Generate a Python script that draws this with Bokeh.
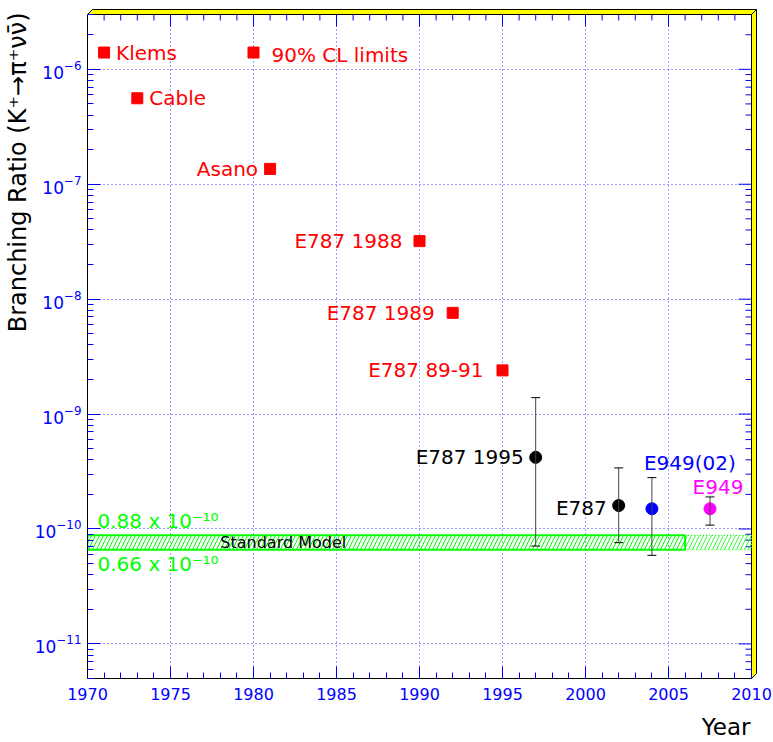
import math
import numpy as np
from bokeh.plotting import figure
from bokeh.models import (ColumnDataSource, Whisker, TeeHead, FixedTicker, Range1d, Title)
from bokeh.core.properties import value
from bokeh.embed import file_html
from bokeh.resources import INLINE

# ---------------- data ----------------
limit_names = ["Klems", "Cable", "Asano", "E787 1988", "E787 1989", "E787 89-91"]
limit_years = [1971, 1973, 1981, 1990, 1992, 1995]
limit_values = [1.4e-6, 5.6e-7, 1.36e-7, 3.2e-8, 7.6e-9, 2.4e-9]

legend_text = ["90% CL limits"]
legend_year = [1980]
legend_value = [1.4e-6]

meas_names = ["E787 1995", "E787", "E949(02)", "E949"]
meas_years = [1997, 2002, 2004, 2007.5]
meas_values = [4.2e-10, 1.6e-10, 1.5e-10, 1.5e-10]
meas_upper = [1.39e-9, 3.4e-10, 2.8e-10, 1.9e-10]
meas_lower = [7.1e-11, 7.6e-11, 5.9e-11, 1.08e-10]

sm_low = 0.66e-10
sm_high = 0.88e-10
sm_start, sm_end, sm_ext_end = 1970, 2006, 2010
sm_high_text = "0.88 x 10\u207b\u00b9\u2070"
sm_low_text = "0.66 x 10\u207b\u00b9\u2070"
sm_name = "Standard Model"
sm_name_year = 1978

x_major = [1970, 1975, 1980, 1985, 1990, 1995, 2000, 2005, 2010]
x_minor = list(range(1970, 2011))
y_major = [1e-11, 1e-10, 1e-9, 1e-8, 1e-7, 1e-6]
y_minor = [m * 10.0 ** e for e in range(-12, -5) for m in range(1, 10)]

x_label = "Year"
y_label = "Branching Ratio (K\u207a\u2192\u03c0\u207a\u03bd\u03bd\u0304)"

# ---------------- layout / styles ----------------
FONT = "DejaVu Sans"
X_LO, X_HI = 1970, 2010
Y_LO, Y_HI = 5e-12, 3e-6
AXIS_PX = 664          # pixel length of the axes
EXTRA_PX = 6           # frame extension for the 3D border
DEPTH_PX = 5           # depth of the yellow border
px_year = AXIS_PX / (X_HI - X_LO)
dec_px = math.log10(Y_HI / Y_LO) / AXIS_PX


def dx(px):
    return px / px_year


def fy(px):
    return 10 ** (px * dec_px)


limit_align = ["left", "left", "right", "right", "right", "right"]
limit_dx = [12, 12, -12, -17, -18, -19]
meas_colors = ["black", "black", "#0000ff", "#ff00ff"]
meas_align = ["right", "right", "center", "center"]
meas_dx = [-12, -12, 38, 8]
meas_dy = [0, 2, -46, -22]

p = figure(frame_width=AXIS_PX + EXTRA_PX, frame_height=AXIS_PX + EXTRA_PX,
           y_axis_type="log",
           x_range=Range1d(X_LO, X_HI + dx(EXTRA_PX)),
           y_range=Range1d(Y_LO, Y_HI * fy(EXTRA_PX)),
           output_backend="svg", toolbar_location=None,
           min_border_left=87, min_border_right=16, min_border_top=8,
           min_border_bottom=64, background_fill_color="white",
           border_fill_color="white")
p.outline_line_color = None

# grid
p.xgrid.ticker = FixedTicker(ticks=x_major)
p.ygrid.ticker = FixedTicker(ticks=y_major)
for g in (p.xgrid, p.ygrid):
    g.grid_line_color = "#2222ff"
    g.grid_line_alpha = 0.9
    g.grid_line_dash = "1 3"
    g.grid_line_width = 1


def style_axis(ax, major_len, minor_len):
    ax.axis_line_color = "black"
    ax.axis_line_width = 1
    ax.major_tick_line_color = "#0000ff"
    ax.minor_tick_line_color = "#0000ff"
    ax.major_tick_in = major_len
    ax.major_tick_out = 0
    ax.minor_tick_in = minor_len
    ax.minor_tick_out = 0
    ax.major_label_text_color = "#0000ff"
    ax.major_label_text_font = FONT
    ax.major_label_text_font_size = "16px"


xa = p.xaxis[0]
xa.ticker = FixedTicker(ticks=x_major, minor_ticks=x_minor)
xa.bounds = (X_LO, X_HI)
style_axis(xa, 12, 6)
xa.major_label_standoff = 9

ya = p.yaxis[0]
ya.ticker = FixedTicker(ticks=y_major, minor_ticks=y_minor)
ya.bounds = (Y_LO, Y_HI)
style_axis(ya, 13, 6)
ya.major_label_text_font_size = "17px"
ya.major_label_standoff = 6

# mirror ticks on top and right edges
top_minor = [x for x in x_minor if x not in x_major]
p.segment(x0=top_minor, x1=top_minor, y0=[Y_HI] * len(top_minor),
          y1=[Y_HI / fy(6)] * len(top_minor), line_color="#0000ff", line_width=1)
p.segment(x0=x_major, x1=x_major, y0=[Y_HI] * len(x_major),
          y1=[Y_HI / fy(12)] * len(x_major), line_color="#0000ff", line_width=1)
right_minor = [y for y in y_minor if Y_LO <= y <= Y_HI and y not in y_major]
p.segment(x0=[X_HI] * len(right_minor), x1=[X_HI - dx(6)] * len(right_minor),
          y0=right_minor, y1=right_minor, line_color="#0000ff", line_width=1)
p.segment(x0=[X_HI] * len(y_major), x1=[X_HI - dx(13)] * len(y_major),
          y0=y_major, y1=y_major, line_color="#0000ff", line_width=1)

# yellow 3D frame border
d_x = dx(DEPTH_PX)
f_y = fy(DEPTH_PX)
p.patches(xs=[[X_LO, X_LO + d_x, X_HI + d_x, X_HI],
              [X_HI, X_HI + d_x, X_HI + d_x, X_HI]],
          ys=[[Y_HI, Y_HI * f_y, Y_HI * f_y, Y_HI],
              [Y_HI, Y_HI * f_y, Y_LO * f_y, Y_LO]],
          fill_color="#ffff00", line_color="black", line_width=1)

# standard model band
p.quad(left=[sm_start], right=[sm_end], bottom=[sm_low], top=[sm_high],
       fill_color=None, line_color="#00ff00", line_width=2,
       hatch_pattern="/", hatch_color="#00ff00", hatch_scale=8, hatch_weight=1)
p.quad(left=[sm_end], right=[sm_ext_end], bottom=[sm_low], top=[sm_high],
       fill_color=None, line_color="#00ff00", line_width=1, line_dash="1 2",
       hatch_pattern="/", hatch_color="#00ff00", hatch_scale=8, hatch_weight=1,
       hatch_alpha=0.8)
p.text(x=[sm_start], y=[sm_high], text=[sm_high_text], x_offset=10, y_offset=-14,
       text_color="#00ff00", text_font=value(FONT), text_font_size="20px",
       text_baseline="middle", text_align="left")
p.text(x=[sm_start], y=[sm_low], text=[sm_low_text], x_offset=10, y_offset=14,
       text_color="#00ff00", text_font=value(FONT), text_font_size="20px",
       text_baseline="middle", text_align="left")
p.text(x=[sm_name_year], y=[(sm_low * sm_high) ** 0.5], text=[sm_name],
       text_color="black", text_font=value(FONT), text_font_size="16px",
       text_baseline="middle", text_align="left")

# limits
lsrc = ColumnDataSource(dict(x=limit_years, y=limit_values, t=limit_names,
                             a=limit_align, dx=limit_dx))
p.scatter("x", "y", source=lsrc, marker="square", size=11,
          fill_color="#ff0000", line_color="#ff0000")
p.text("x", "y", text="t", source=lsrc, x_offset="dx", text_align="a",
       text_baseline="middle", text_color="#ff0000", text_font=value(FONT),
       text_font_size="20px")

gsrc = ColumnDataSource(dict(x=legend_year, y=legend_value, t=legend_text))
p.scatter("x", "y", source=gsrc, marker="square", size=11,
          fill_color="#ff0000", line_color="#ff0000")
p.text("x", "y", text="t", source=gsrc, x_offset=18, y_offset=2, text_align="left",
       text_baseline="middle", text_color="#ff0000", text_font=value(FONT),
       text_font_size="20px")

# measurements
msrc = ColumnDataSource(dict(x=meas_years, y=meas_values, up=meas_upper,
                             lo=meas_lower, t=meas_names, c=meas_colors,
                             a=meas_align, dx=meas_dx, dy=meas_dy))
p.add_layout(Whisker(base="x", upper="up", lower="lo", source=msrc,
                     line_color="#444444", line_width=1, level="glyph",
                     upper_head=TeeHead(size=9, line_color="black", line_width=1),
                     lower_head=TeeHead(size=9, line_color="black", line_width=1)))
p.scatter("x", "y", source=msrc, marker="circle", size=12,
          fill_color="c", line_color="c")
p.text("x", "y", text="t", source=msrc, x_offset="dx", y_offset="dy",
       text_align="a", text_baseline="middle", text_color="c",
       text_font=value(FONT), text_font_size="20px")

# axis titles
p.add_layout(Title(text=y_label, align="right", offset=4, standoff=0,
                   text_font=FONT, text_font_size="24px",
                   text_font_style="normal", text_color="black"), "left")
p.add_layout(Title(text=x_label, align="right", offset=7, standoff=18,
                   text_font=FONT, text_font_size="23px",
                   text_font_style="normal", text_color="black"), "below")

open("out.html", "w").write(file_html(p, INLINE))
